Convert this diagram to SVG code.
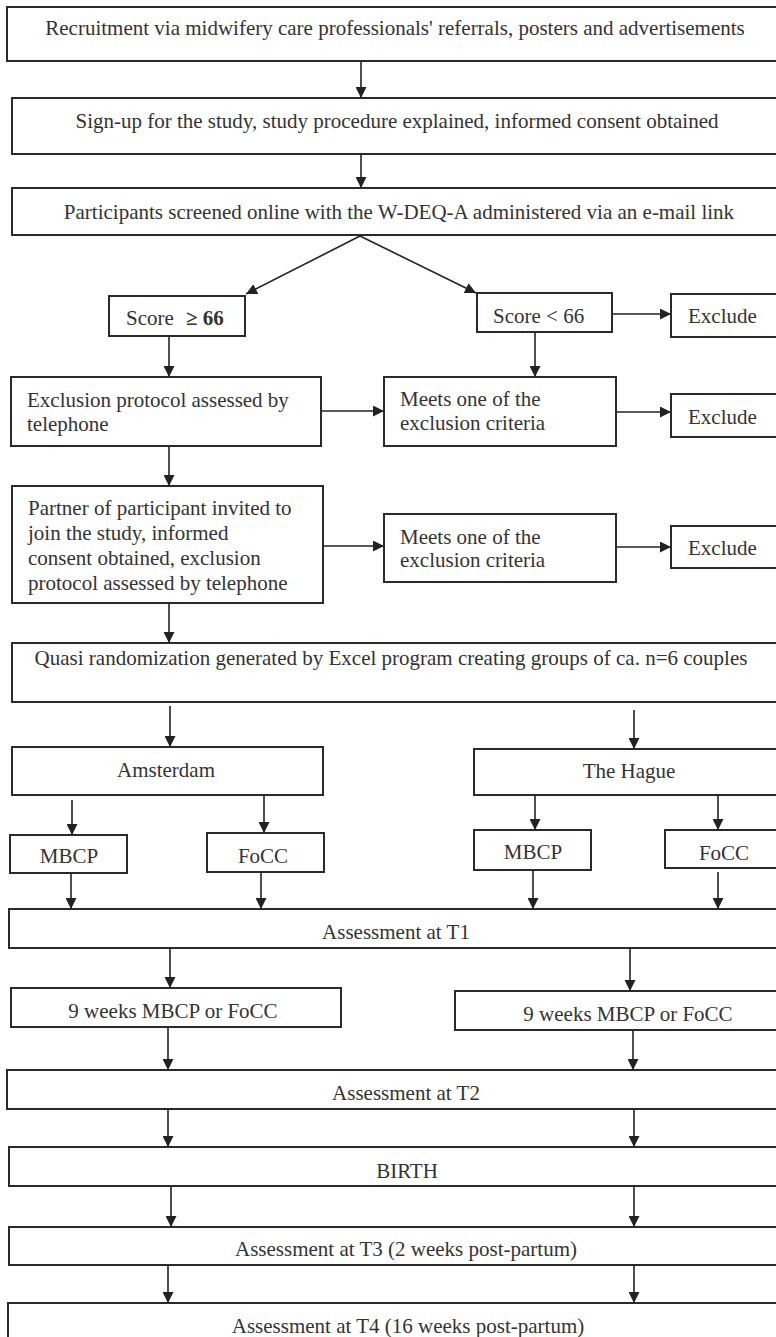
<svg xmlns="http://www.w3.org/2000/svg" width="776" height="1337" viewBox="0 0 776 1337">
<style>
.box{fill:#fff;stroke:#2a2a2a;stroke-width:2}
.t{font-family:"Liberation Serif","Times New Roman",serif;font-size:21px;fill:#333}
.c{text-anchor:middle}
.ln{stroke:#222;stroke-width:1.6;fill:none;marker-end:url(#ah)}
</style>
<defs>
<marker id="ah" viewBox="0 0 10 10" refX="10" refY="5" markerWidth="11" markerHeight="11" markerUnits="userSpaceOnUse" orient="auto">
<path d="M0,0 L10,5 L0,10 z" fill="#222"/>
</marker>
</defs>
<rect width="776" height="1337" fill="#fff"/>
<g id="connectors">
<line class="ln" x1="361" y1="61" x2="361" y2="98"/>
<line class="ln" x1="361" y1="154" x2="361" y2="188"/>
<line class="ln" x1="360" y1="236" x2="246" y2="294"/>
<line class="ln" x1="360" y1="236" x2="476" y2="293"/>
<line class="ln" x1="612" y1="314" x2="671" y2="314"/>
<line class="ln" x1="169" y1="336" x2="169" y2="377"/>
<line class="ln" x1="535" y1="332" x2="535" y2="377"/>
<line class="ln" x1="321" y1="411" x2="384" y2="411"/>
<line class="ln" x1="616" y1="412" x2="671" y2="412"/>
<line class="ln" x1="169" y1="446" x2="169" y2="486"/>
<line class="ln" x1="323" y1="546" x2="384" y2="546"/>
<line class="ln" x1="616" y1="547" x2="671" y2="547"/>
<line class="ln" x1="169" y1="603" x2="169" y2="643"/>
<line class="ln" x1="170" y1="706" x2="170" y2="747"/>
<line class="ln" x1="634" y1="710" x2="634" y2="749"/>
<line class="ln" x1="72" y1="800" x2="72" y2="835"/>
<line class="ln" x1="264" y1="795" x2="264" y2="833"/>
<line class="ln" x1="535" y1="795" x2="535" y2="830"/>
<line class="ln" x1="718" y1="795" x2="718" y2="830"/>
<line class="ln" x1="71" y1="873" x2="71" y2="909"/>
<line class="ln" x1="261" y1="872" x2="261" y2="909"/>
<line class="ln" x1="533" y1="870" x2="533" y2="909"/>
<line class="ln" x1="718" y1="872" x2="718" y2="909"/>
<line class="ln" x1="170" y1="948" x2="170" y2="988"/>
<line class="ln" x1="630" y1="948" x2="630" y2="991"/>
<line class="ln" x1="168" y1="1027" x2="168" y2="1070"/>
<line class="ln" x1="633" y1="1030" x2="633" y2="1070"/>
<line class="ln" x1="168" y1="1109" x2="168" y2="1147"/>
<line class="ln" x1="634" y1="1109" x2="634" y2="1147"/>
<line class="ln" x1="171" y1="1186" x2="171" y2="1227"/>
<line class="ln" x1="634" y1="1186" x2="634" y2="1227"/>
<line class="ln" x1="168" y1="1265" x2="168" y2="1303"/>
<line class="ln" x1="634" y1="1265" x2="634" y2="1303"/>
</g>
<g id="recruitment"><rect class="box" x="7" y="7" width="783" height="54"/><text class="t c" x="395" y="35">Recruitment via midwifery care professionals' referrals, posters and advertisements</text></g>
<g id="signup"><rect class="box" x="12" y="98" width="778" height="56"/><text class="t c" x="397" y="128">Sign-up for the study, study procedure explained, informed consent obtained</text></g>
<g id="screened"><rect class="box" x="12" y="188" width="778" height="47"/><text class="t c" x="399" y="219">Participants screened online with the W-DEQ-A administered via an e-mail link</text></g>
<g id="score-high"><rect class="box" x="109" y="296" width="136" height="40"/><text class="t" x="126" y="325">Score<tspan x="186" font-weight="bold">≥ 66</tspan></text></g>
<g id="score-low"><rect class="box" x="477" y="293" width="135" height="39"/><text class="t" x="493" y="323">Score &lt; 66</text></g>
<g id="exclude-1"><rect class="box" x="671" y="294" width="120" height="43"/><text class="t" x="688" y="323">Exclude</text></g>
<g id="protocol"><rect class="box" x="11" y="377" width="310" height="69"/><text class="t" x="27" y="407">Exclusion protocol assessed by</text><text class="t" x="27" y="431">telephone</text></g>
<g id="meets-1"><rect class="box" x="384" y="377" width="232" height="69"/><text class="t" x="400" y="406">Meets one of the</text><text class="t" x="400" y="430">exclusion criteria</text></g>
<g id="exclude-2"><rect class="box" x="671" y="394" width="120" height="43"/><text class="t" x="688" y="424">Exclude</text></g>
<g id="partner"><rect class="box" x="12" y="486" width="311" height="117"/><text class="t" x="28" y="515">Partner of participant invited to</text><text class="t" x="28" y="540">join the study, informed</text><text class="t" x="28" y="565">consent obtained, exclusion</text><text class="t" x="28" y="590">protocol assessed by telephone</text></g>
<g id="meets-2"><rect class="box" x="384" y="514" width="232" height="68"/><text class="t" x="400" y="544">Meets one of the</text><text class="t" x="400" y="567">exclusion criteria</text></g>
<g id="exclude-3"><rect class="box" x="671" y="526" width="120" height="42"/><text class="t" x="688" y="555">Exclude</text></g>
<g id="quasi"><rect class="box" x="12" y="643" width="778" height="59"/><text class="t c" x="391" y="665">Quasi randomization generated by Excel program creating groups of ca. n=6 couples</text></g>
<g id="amsterdam"><rect class="box" x="12" y="747" width="311" height="48"/><text class="t c" x="166" y="777">Amsterdam</text></g>
<g id="hague"><rect class="box" x="474" y="749" width="316" height="46"/><text class="t c" x="629" y="778">The Hague</text></g>
<g id="mbcp-a"><rect class="box" x="10" y="835" width="117" height="38"/><text class="t c" x="69" y="863">MBCP</text></g>
<g id="focc-a"><rect class="box" x="207" y="833" width="117" height="39"/><text class="t c" x="263" y="863">FoCC</text></g>
<g id="mbcp-h"><rect class="box" x="474" y="830" width="117" height="40"/><text class="t c" x="533" y="859">MBCP</text></g>
<g id="focc-h"><rect class="box" x="665" y="830" width="125" height="38"/><text class="t c" x="724" y="860">FoCC</text></g>
<g id="t1"><rect class="box" x="9" y="909" width="781" height="39"/><text class="t c" x="396" y="939">Assessment at T1</text></g>
<g id="weeks-l"><rect class="box" x="11" y="988" width="330" height="39"/><text class="t c" x="173" y="1018">9 weeks MBCP or FoCC</text></g>
<g id="weeks-r"><rect class="box" x="455" y="991" width="335" height="39"/><text class="t c" x="628" y="1021">9 weeks MBCP or FoCC</text></g>
<g id="t2"><rect class="box" x="7" y="1070" width="783" height="39"/><text class="t c" x="406" y="1100">Assessment at T2</text></g>
<g id="birth"><rect class="box" x="9" y="1147" width="781" height="39"/><text class="t c" x="407" y="1178">BIRTH</text></g>
<g id="t3"><rect class="box" x="9" y="1227" width="781" height="38"/><text class="t c" x="406" y="1256">Assessment at T3 (2 weeks post-partum)</text></g>
<g id="t4"><rect class="box" x="8" y="1303" width="782" height="50"/><text class="t c" x="408" y="1333">Assessment at T4 (16 weeks post-partum)</text></g>
</svg>
